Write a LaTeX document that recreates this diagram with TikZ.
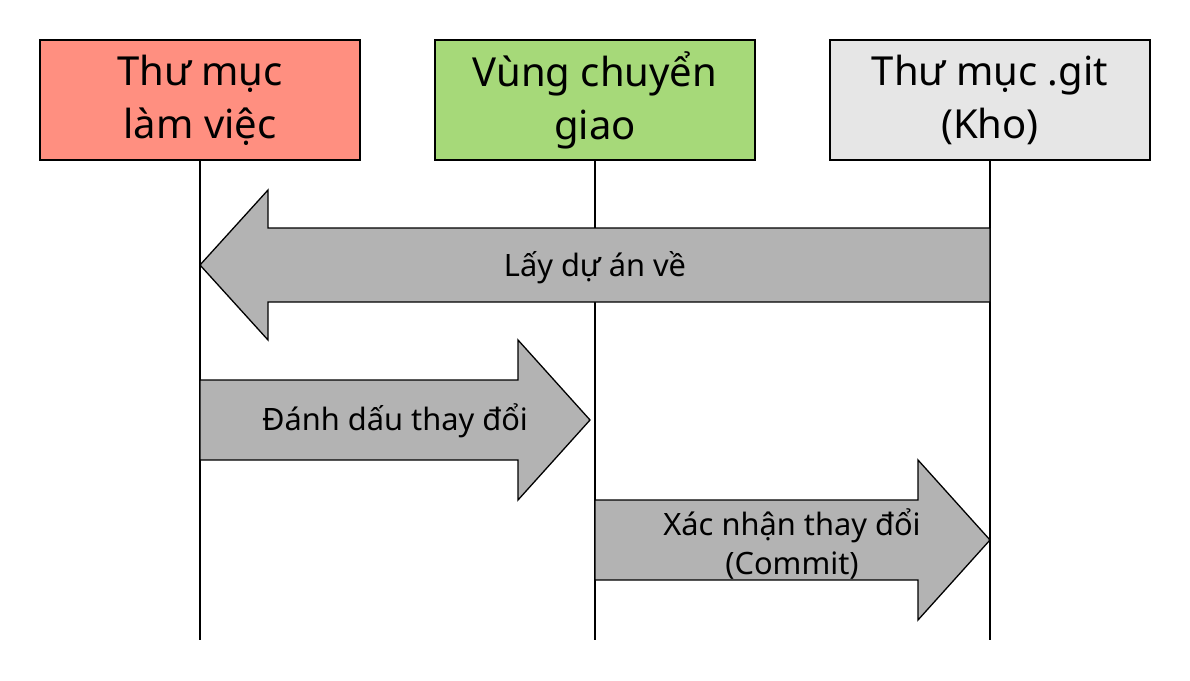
\documentclass[tikz,border=0pt]{standalone}
\usepackage{fontspec}
\setmainfont{Noto Sans}
\usepackage{xcolor}
\usepackage{tikz}
\usetikzlibrary{positioning}

\definecolor{workred}{HTML}{FF8F80}
\definecolor{stagegreen}{HTML}{A6D979}
\definecolor{repogrey}{HTML}{E6E6E6}
\definecolor{arrowgrey}{HTML}{B3B3B3}

\begin{document}
\begin{tikzpicture}[x=1pt,y=-1pt,
  area/.style={draw,line width=1.6pt,minimum width=320pt,minimum height=120pt,inner sep=0pt,align=center,font=\fontsize{40}{53}\selectfont},
  lifeline/.style={line width=1.3pt},
  bigarrow/.style={draw,line width=1.3pt,fill=arrowgrey,line join=miter},
  steplabel/.style={align=center,font=\fontsize{30.8}{39}\selectfont}]
\useasboundingbox (0,0) rectangle (1190,680);
\node[area,fill=workred] (work) at (200,100) {Thư mục\\làm việc};
\node[area,fill=stagegreen] (stage) at (595,100) {Vùng chuyển\\giao};
\node[area,fill=repogrey] (repo) at (990,100) {Thư mục .git\\(Kho)};
	\coordinate (workend) at (200,640);
	\coordinate (stageend) at (595,640);
	\coordinate (repoend) at (990,640);
\draw[lifeline] (work.south) -- (workend);
\draw[lifeline] (stage.south) -- (stageend);
\draw[lifeline] (repo.south) -- (repoend);
% lay du an ve
\draw[bigarrow] (990,228) -- (268,228) -- (268,190) -- (200,265) -- (268,340) -- (268,302) -- (990,302) -- cycle;
	\node[steplabel] (checkout) at (595,268) {Lấy dự án về};
% danh dau
\draw[bigarrow] (200,380) -- (518,380) -- (518,340) -- (590,420) -- (518,500) -- (518,460) -- (200,460) -- cycle;
	\node[steplabel] (add) at (395,421) {Đánh dấu thay đổi};
% xac nhan
\draw[bigarrow] (595,500) -- (918,500) -- (918,460) -- (990,540) -- (918,620) -- (918,580) -- (595,580) -- cycle;
	\node[steplabel] (commit) at (792,544) {Xác nhận thay đổi\\(Commit)};
\end{tikzpicture}
\end{document}
